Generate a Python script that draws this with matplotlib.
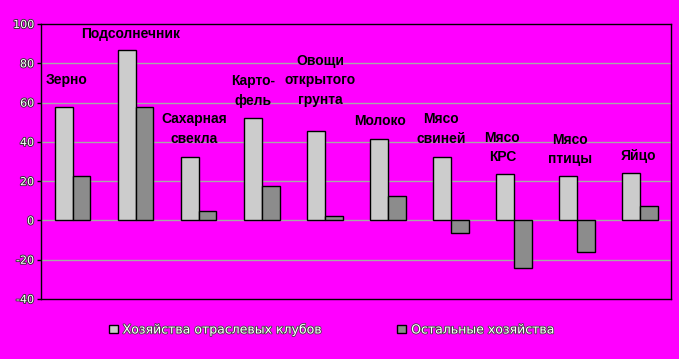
import matplotlib
matplotlib.use("Agg")
import matplotlib.pyplot as plt
import matplotlib.patheffects as pe
from matplotlib.patches import Patch
import numpy as np

plt.rcParams["axes.unicode_minus"] = False

# data
categories = ["Зерно", "Подсолнечник", "Сахарная\nсвекла", "Карто-\nфель",
              "Овощи\nоткрытого\nгрунта", "Молоко", "Мясо\nсвиней", "Мясо\nКРС",
              "Мясо\nптицы", "Яйцо"]
clubs = [58, 87, 32.5, 52, 45.5, 41.5, 32.5, 23.5, 22.5, 24]
others = [22.5, 58, 5, 17.5, 2.5, 12.5, -6.5, -24, -16, 7.5]
series_names = ["Хозяйства отраслевых клубов", "Остальные хозяйства"]
yticks = [-40, -20, 0, 20, 40, 60, 80, 100]

# label placement (x shift from category, y in data units)
label_pos = [(-0.10, 71.5), (-0.07, 94.8), (-0.07, 46.5), (-0.13, 65.9),
             (-0.07, 71.5), (-0.12, 50.8), (-0.15, 46.5), (-0.18, 37.1),
             (-0.10, 36.1), (-0.02, 32.8)]

magenta = "#ff00ff"
light = "#cccccc"
dark = "#8c8c8c"

fig = plt.figure(figsize=(6.79, 3.59), dpi=100, facecolor=magenta)
ax = fig.add_axes([0.0604, 0.167, 0.928, 0.766], facecolor=magenta)

x = np.arange(len(categories))
w = 0.285
ax.bar(x - w / 2, clubs, w, color=light, edgecolor="black", linewidth=1.0, zorder=3)
ax.bar(x + w / 2, others, w, color=dark, edgecolor="black", linewidth=1.0, zorder=3)

ax.set_xlim(-0.5, len(categories) - 0.5)
ax.set_ylim(-40, 100)
ax.set_yticks(yticks)
ax.set_xticks([])
for t in yticks[1:-1]:
    ax.axhline(t, color="#a8a8a8", linewidth=1.0, zorder=1)

for s in ax.spines.values():
    s.set_color("black")
    s.set_linewidth(1.0)
ax.tick_params(axis="y", length=3, width=1, color="black", pad=2)
outline = [pe.withStroke(linewidth=1.3, foreground="#333333")]
for lab in ax.get_yticklabels():
    lab.set_fontsize(8)
    lab.set_color("white")
    lab.set_path_effects(outline)

for i, name in enumerate(categories):
    dx, yy = label_pos[i]
    ax.text(i + dx, yy, name, ha="center", va="center", fontsize=10,
            fontweight="bold", family="Liberation Sans", color="black",
            linespacing=1.5, zorder=4)

handles = [Patch(facecolor=light, edgecolor="black", linewidth=1.0),
           Patch(facecolor=dark, edgecolor="black", linewidth=1.0)]
leg = fig.legend(handles, series_names, loc="center", bbox_to_anchor=(0.489, 0.081),
                 ncol=2, frameon=False, fontsize=9, handlelength=0.7,
                 handleheight=0.7, handletextpad=0.4, columnspacing=6.0)
for t in leg.get_texts():
    t.set_color("white")
    t.set_path_effects([pe.withStroke(linewidth=1.2, foreground="#444444")])

fig.savefig("out.png", dpi=100, facecolor=magenta)
